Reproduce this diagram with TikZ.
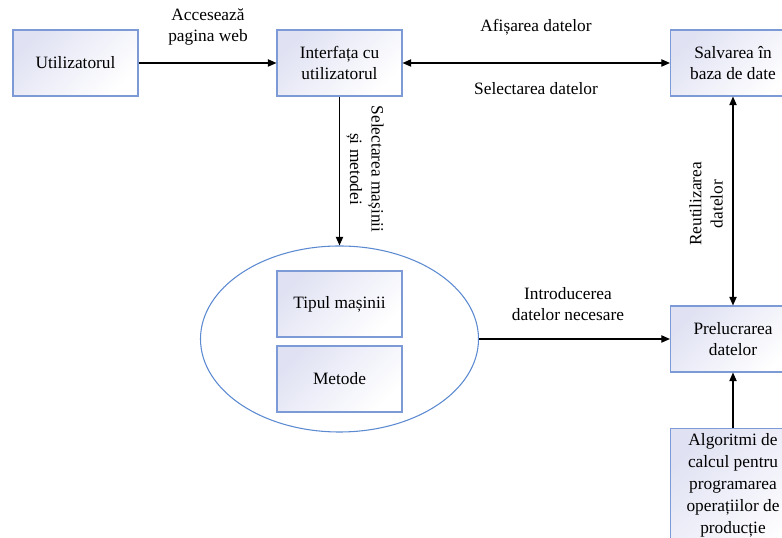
\documentclass[tikz,border=0pt]{standalone}
\usepackage{fontspec}
\setmainfont{Liberation Serif}
\usetikzlibrary{shapes.geometric,arrows.meta}
\definecolor{boxblue}{RGB}{124,154,214}
\definecolor{boxfill}{RGB}{224,226,243}
\definecolor{ellblue}{RGB}{92,138,208}

\begin{document}
\begin{tikzpicture}[x=0.75pt,y=0.75pt,font=\fontsize{13}{16}\selectfont,
  box/.style={draw=boxblue,line width=0.8pt,top color=boxfill,bottom color=white,shading angle=45,
    minimum width=93.75pt,minimum height=49.5pt,align=center,inner sep=2pt},
  lbl/.style={align=center,inner sep=0pt},
  arr/.style={line width=0.9pt,-{Triangle[length=6.5pt,width=5.5pt]}},
  darr/.style={line width=0.9pt,{Triangle[length=6.5pt,width=5.5pt]}-{Triangle[length=6.5pt,width=5.5pt]}}]
  \useasboundingbox (0,0) rectangle (782,538);

  % boxes
  \node[box] (user) at (75.5,475) {Utilizatorul};
  \node[box] (ui) at (339.5,475) {Interfața cu\\utilizatorul};
  \node[box] (db) at (733,475) {Salvarea în\\baza de date};
  \node[draw=ellblue,line width=0.8pt,ellipse,minimum width=208.5pt,minimum height=139.5pt,inner sep=0pt] (sel) at (339.5,199) {};
  \node[box] (type) at (339.5,234) {Tipul mașinii};
  \node[box] (meth) at (339.5,159) {Metode};
  \node[box] (proc) at (733,199) {Prelucrarea\\datelor};
  \node[box,anchor=north,inner ysep=4pt,text depth=20pt,font=\fontsize{13}{16.5}\selectfont] (algo) at (733,110)
    {Algoritmi de\\calcul pentru\\programarea\\operațiilor de\\producție};

  % connectors
  \draw[arr] (user) -- (ui);
  \draw[darr] (ui) -- (db);
  \draw[arr] (ui) -- (sel);
  \draw[arr] (sel) -- (proc);
  \draw[darr] (db) -- (proc);
  \draw[arr] (algo) -- (proc);

  % labels
  \node[lbl] (lweb) at (208,511) {Accesează\\pagina web};
  \node[lbl] (lshow) at (536,511) {Afișarea datelor};
  \node[lbl] (lpick) at (536,449) {Selectarea datelor};
  \node[lbl,rotate=-90] (lmach) at (365,369) {Selectarea mașinii\\și metodei};
  \node[lbl,rotate=90] (lreuse) at (706,334) {Reutilizarea\\datelor};
  \node[lbl] (lin) at (568,234) {Introducerea\\datelor necesare};
\end{tikzpicture}
\end{document}
